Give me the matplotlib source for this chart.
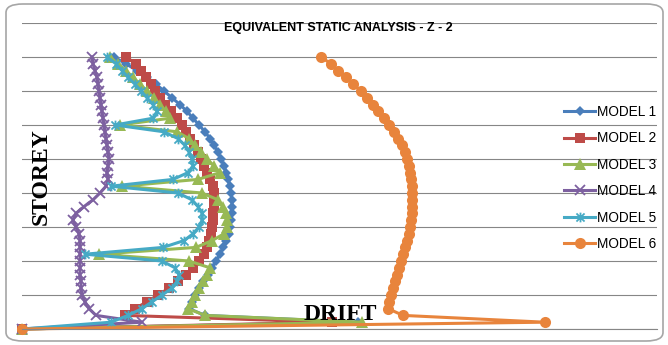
import matplotlib
matplotlib.use('Agg')
import matplotlib.pyplot as plt
from matplotlib.path import Path
from matplotlib.patches import FancyBboxPatch

# storey 0 (base) to 40 (roof); drift (arbitrary units)
storeys = list(range(0, 41))

model1 = [0.00, 3.36, 1.83, 1.67, 1.70, 1.73, 1.77, 1.81, 1.86, 1.90,
          1.94, 1.98, 2.01, 2.04, 2.07, 2.08, 2.09, 2.10, 2.10, 2.10,
          2.09, 2.08, 2.06, 2.04, 2.02, 1.99, 1.96, 1.92, 1.88, 1.83,
          1.77, 1.71, 1.65, 1.58, 1.50, 1.42, 1.34, 1.25, 1.15, 1.04, 0.92]
model2 = [0.00, 3.10, 1.03, 1.13, 1.25, 1.36, 1.47, 1.56, 1.64, 1.71,
          1.77, 1.82, 1.85, 1.87, 1.89, 1.90, 1.91, 1.91, 1.92, 1.92,
          1.92, 1.91, 1.88, 1.85, 1.82, 1.79, 1.76, 1.72, 1.68, 1.64,
          1.60, 1.55, 1.49, 1.43, 1.38, 1.33, 1.29, 1.24, 1.19, 1.14, 1.04]
model3 = [0.00, 3.40, 1.83, 1.66, 1.70, 1.73, 1.77, 1.81, 1.85, 1.88,
          1.67, 0.77, 1.74, 1.90, 2.02, 2.05, 2.05, 2.04, 2.01, 1.96,
          1.80, 1.00, 1.76, 1.98, 1.92, 1.85, 1.79, 1.73, 1.67, 1.55,
          0.98, 1.48, 1.44, 1.38, 1.32, 1.25, 1.18, 1.11, 1.04, 0.96, 0.88]
model4 = [0.00, 1.20, 0.74, 0.67, 0.63, 0.60, 0.59, 0.59, 0.58, 0.58,
          0.58, 0.58, 0.58, 0.58, 0.57, 0.54, 0.51, 0.54, 0.62, 0.71,
          0.78, 0.84, 0.86, 0.85, 0.86, 0.87, 0.86, 0.85, 0.84, 0.83,
          0.82, 0.81, 0.80, 0.79, 0.78, 0.77, 0.76, 0.75, 0.73, 0.71, 0.70]
model5 = [0.00, 0.89, 1.06, 1.20, 1.30, 1.40, 1.50, 1.55, 1.57, 1.53,
          1.40, 0.63, 1.41, 1.62, 1.71, 1.77, 1.80, 1.80, 1.76, 1.70,
          1.56, 0.89, 1.51, 1.66, 1.71, 1.70, 1.67, 1.63, 1.56, 1.42,
          0.93, 1.31, 1.35, 1.31, 1.25, 1.19, 1.13, 1.06, 1.00, 0.94, 0.85]
model6 = [0.00, 5.23, 3.81, 3.66, 3.67, 3.69, 3.71, 3.73, 3.75, 3.77,
          3.79, 3.81, 3.83, 3.85, 3.87, 3.88, 3.89, 3.90, 3.90, 3.90,
          3.90, 3.90, 3.89, 3.88, 3.87, 3.85, 3.83, 3.80, 3.76, 3.72,
          3.67, 3.62, 3.56, 3.51, 3.45, 3.39, 3.31, 3.24, 3.16, 3.09, 2.99]

labels = ['MODEL 1', 'MODEL 2', 'MODEL 3', 'MODEL 4', 'MODEL 5', 'MODEL 6']

# excel style asterisk marker (x with a vertical bar)
asterisk = Path([(-1, -1), (1, 1), (-1, 1), (1, -1), (0, -1.2), (0, 1.2)],
                [Path.MOVETO, Path.LINETO] * 3)

styles = [
    dict(color='#4A7EBB', marker='D', ms=5, mew=0),
    dict(color='#BE4B48', marker='s', ms=7, mew=0),
    dict(color='#98B954', marker='^', ms=8.5, mew=0),
    dict(color='#7D60A0', marker='x', ms=6.5, mew=1.3, mfc='none'),
    dict(color='#46AAC5', marker=asterisk, ms=7, mew=1.3, mfc='none'),
    dict(color='#E8843C', marker='o', ms=8, mew=0),
]

fig = plt.figure(figsize=(6.68, 3.45), dpi=100)
ax = fig.add_axes([22 / 668, 16 / 345, 635 / 668, 306 / 345])

for xs, lab, st in zip([model1, model2, model3, model4, model5, model6], labels, styles):
    ax.plot(xs, storeys, label=lab, lw=2.2, clip_on=False, **st)

ax.set_xlim(0, 6.35)
ax.set_ylim(0, 45)
ax.set_yticks(range(0, 46, 5))
ax.grid(True, axis='y', color='#868686', lw=0.8)
ax.set_axisbelow(True)
ax.tick_params(left=False, bottom=False, labelleft=False, labelbottom=False)
for s in ['left', 'right', 'top']:
    ax.spines[s].set_visible(False)
ax.spines['bottom'].set_color('#868686')
ax.spines['bottom'].set_linewidth(0.8)

fig.text(338 / 668, 1 - 28 / 345, 'EQUIVALENT STATIC ANALYSIS - Z - 2', ha='center', va='center',
         fontsize=9, fontweight='bold', family='Liberation Sans')
fig.text(41 / 668, 1 - 177 / 345, 'STOREY', rotation=90, ha='center', va='center',
         fontsize=17, fontweight='bold', family='Liberation Serif')
fig.text(340 / 668, 1 - 314 / 345, 'DRIFT', ha='center', va='center',
         fontsize=17, fontweight='bold', family='Liberation Serif')

leg = ax.legend(loc='upper left', bbox_to_anchor=(564 / 668, 1 - 105 / 345),
                bbox_transform=fig.transFigure, frameon=False,
                prop={'family': 'Liberation Sans', 'size': 9.8},
                handlelength=2.3, handletextpad=0.15, labelspacing=0.91,
                borderpad=0, borderaxespad=0)

border = FancyBboxPatch((6 / 668, 4 / 345), 657 / 668, 337 / 345,
                        boxstyle='round,pad=0,rounding_size=0.025',
                        transform=fig.transFigure, fill=False,
                        edgecolor='#A6A6A6', lw=1.2)
fig.patches.append(border)

fig.savefig('out.png', dpi=100)
